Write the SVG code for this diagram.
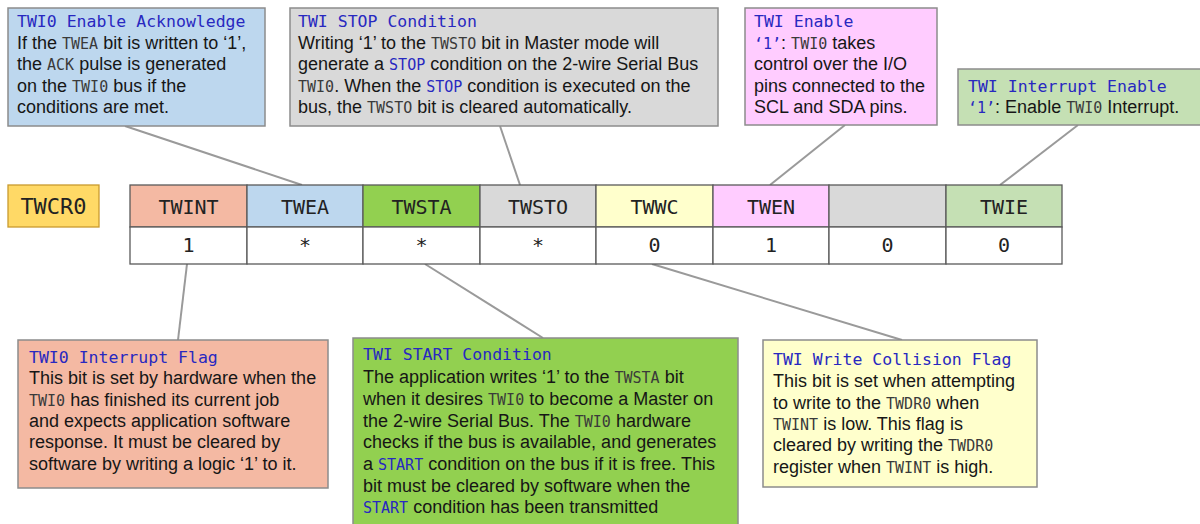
<svg xmlns="http://www.w3.org/2000/svg" width="1200" height="524" viewBox="0 0 1200 524">
<style>
.box{stroke:#8c8c8c;stroke-width:1.5}
.t{font-family:"DejaVu Sans Mono","Liberation Mono",monospace;font-size:16.5px;fill:#2828c0}
.b{font-family:"Liberation Sans",Arial,sans-serif;font-size:18px;fill:#161616}
.m{font-family:"DejaVu Sans Mono","Liberation Mono",monospace;font-size:15px;fill:#3a3a3a}
.mb{font-family:"DejaVu Sans Mono","Liberation Mono",monospace;font-size:15px;fill:#2828c0}
.cell{stroke:#5a5a5a;stroke-width:1.3}
.h{font-family:"DejaVu Sans Mono","Liberation Mono",monospace;font-size:20px;fill:#222;text-anchor:middle}
.conn{stroke:#9a9a9a;stroke-width:2;fill:none}
</style>
<rect width="1200" height="524" fill="#ffffff"/>

<g id="connectors">
<line class="conn" x1="125" y1="126" x2="302" y2="185"/>
<line class="conn" x1="500" y1="126" x2="520" y2="185"/>
<line class="conn" x1="845" y1="125" x2="770" y2="185"/>
<line class="conn" x1="1078" y1="125" x2="1000" y2="185"/>
<line class="conn" x1="187" y1="264" x2="178" y2="340"/>
<line class="conn" x1="425" y1="264" x2="543" y2="338"/>
<line class="conn" x1="652" y1="264" x2="902" y2="340"/>
</g>

<g id="twea-note">
<rect class="box" x="8" y="8" width="257" height="118" fill="#BDD7EE"/>
<text class="t" x="17" y="27">TWI0 Enable Acknowledge</text>
<text class="b" x="17" y="49">If the <tspan class="m">TWEA</tspan> bit is written to ‘1’,</text>
<text class="b" x="17" y="70">the <tspan class="m">ACK</tspan> pulse is generated</text>
<text class="b" x="17" y="92">on the <tspan class="m">TWI0</tspan> bus if the</text>
<text class="b" x="17" y="113">conditions are met.</text>
</g>

<g id="twsto-note">
<rect class="box" x="290" y="8" width="428" height="118" fill="#D9D9D9"/>
<text class="t" x="298" y="27">TWI STOP Condition</text>
<text class="b" x="298" y="49">Writing ‘1’ to the <tspan class="m">TWSTO</tspan> bit in Master mode will</text>
<text class="b" x="298" y="70">generate a <tspan class="mb">STOP</tspan> condition on the 2-wire Serial Bus</text>
<text class="b" x="298" y="92"><tspan class="m">TWI0</tspan>.  When the <tspan class="mb">STOP</tspan> condition is executed on the</text>
<text class="b" x="298" y="113">bus, the <tspan class="m">TWSTO</tspan> bit is cleared automatically.</text>
</g>

<g id="twen-note">
<rect class="box" x="745" y="8" width="192" height="117" fill="#FFCCFF"/>
<text class="t" x="754" y="27">TWI Enable</text>
<text class="b" x="754" y="49"><tspan class="mb">‘1’</tspan>: <tspan class="m">TWI0</tspan> takes</text>
<text class="b" x="754" y="70">control over the I/O</text>
<text class="b" x="754" y="92">pins connected to the</text>
<text class="b" x="754" y="113">SCL and SDA pins.</text>
</g>

<g id="twie-note">
<rect class="box" x="958" y="69" width="250" height="56" fill="#C5E0B4"/>
<text class="t" x="968" y="92">TWI Interrupt Enable</text>
<text class="b" x="968" y="113"><tspan class="mb">‘1’</tspan>: Enable <tspan class="m">TWI0</tspan> Interrupt.</text>
</g>

<g id="twcr0-label">
<rect x="8" y="185" width="91" height="42" fill="#FFD966" stroke="#C99A2E" stroke-width="1.3"/>
<text class="h" x="53.5" y="214" style="font-size:22px">TWCR0</text>
</g>

<g id="bit-twint">
<rect class="cell" x="130" y="185" width="117" height="42" fill="#F4B9A3"/>
<rect class="cell" x="130" y="227" width="117" height="37" fill="#ffffff"/>
<text class="h" x="188.5" y="214">TWINT</text>
<text class="h" x="188.5" y="252">1</text>
</g>
<g id="bit-twea">
<rect class="cell" x="247" y="185" width="116" height="42" fill="#BDD7EE"/>
<rect class="cell" x="247" y="227" width="116" height="37" fill="#ffffff"/>
<text class="h" x="305" y="214">TWEA</text>
<text class="h" x="305" y="252">*</text>
</g>
<g id="bit-twsta">
<rect class="cell" x="363" y="185" width="117" height="42" fill="#92D050"/>
<rect class="cell" x="363" y="227" width="117" height="37" fill="#ffffff"/>
<text class="h" x="421.5" y="214">TWSTA</text>
<text class="h" x="421.5" y="252">*</text>
</g>
<g id="bit-twsto">
<rect class="cell" x="480" y="185" width="116" height="42" fill="#D9D9D9"/>
<rect class="cell" x="480" y="227" width="116" height="37" fill="#ffffff"/>
<text class="h" x="538" y="214">TWSTO</text>
<text class="h" x="538" y="252">*</text>
</g>
<g id="bit-twwc">
<rect class="cell" x="596" y="185" width="117" height="42" fill="#FFFFCC"/>
<rect class="cell" x="596" y="227" width="117" height="37" fill="#ffffff"/>
<text class="h" x="654.5" y="214">TWWC</text>
<text class="h" x="654.5" y="252">0</text>
</g>
<g id="bit-twen">
<rect class="cell" x="713" y="185" width="116" height="42" fill="#FFCCFF"/>
<rect class="cell" x="713" y="227" width="116" height="37" fill="#ffffff"/>
<text class="h" x="771" y="214">TWEN</text>
<text class="h" x="771" y="252">1</text>
</g>
<g id="bit-reserved">
<rect class="cell" x="829" y="185" width="117" height="42" fill="#D9D9D9"/>
<rect class="cell" x="829" y="227" width="117" height="37" fill="#ffffff"/>
<text class="h" x="887.5" y="252">0</text>
</g>
<g id="bit-twie">
<rect class="cell" x="946" y="185" width="116" height="42" fill="#C5E0B4"/>
<rect class="cell" x="946" y="227" width="116" height="37" fill="#ffffff"/>
<text class="h" x="1004" y="214">TWIE</text>
<text class="h" x="1004" y="252">0</text>
</g>

<g id="twint-note">
<rect class="box" x="18" y="340" width="310" height="148" fill="#F4B9A3"/>
<text class="t" x="29" y="363">TWI0 Interrupt Flag</text>
<text class="b" x="29" y="384">This bit is set by hardware when the</text>
<text class="b" x="29" y="406"><tspan class="m">TWI0</tspan> has finished its current job</text>
<text class="b" x="29" y="427">and expects application software</text>
<text class="b" x="29" y="448">response. It must be cleared by</text>
<text class="b" x="29" y="470">software by writing a logic ‘1’ to it.</text>
</g>

<g id="twsta-note">
<rect class="box" x="353" y="338" width="385" height="195" fill="#92D050"/>
<text class="t" x="363" y="360">TWI START Condition</text>
<text class="b" x="363" y="383">The application writes ‘1’ to the <tspan class="m">TWSTA</tspan> bit</text>
<text class="b" x="363" y="405">when it desires <tspan class="m">TWI0</tspan> to become a Master on</text>
<text class="b" x="363" y="427">the 2-wire Serial Bus. The <tspan class="m">TWI0</tspan> hardware</text>
<text class="b" x="363" y="448">checks if the bus is available, and generates</text>
<text class="b" x="363" y="470">a <tspan class="mb">START</tspan> condition on the bus if it is free. This</text>
<text class="b" x="363" y="492">bit must be cleared by software when the</text>
<text class="b" x="363" y="513"><tspan class="mb">START</tspan> condition has been transmitted</text>
</g>

<g id="twwc-note">
<rect class="box" x="763" y="340" width="274" height="147" fill="#FFFFCC"/>
<text class="t" x="773" y="365">TWI Write Collision Flag</text>
<text class="b" x="773" y="387">This bit is set when attempting</text>
<text class="b" x="773" y="409">to write to the <tspan class="m">TWDR0</tspan> when</text>
<text class="b" x="773" y="430"><tspan class="m">TWINT</tspan> is low. This flag is</text>
<text class="b" x="773" y="451">cleared by writing the <tspan class="m">TWDR0</tspan></text>
<text class="b" x="773" y="473">register when <tspan class="m">TWINT</tspan> is high.</text>
</g>
</svg>
